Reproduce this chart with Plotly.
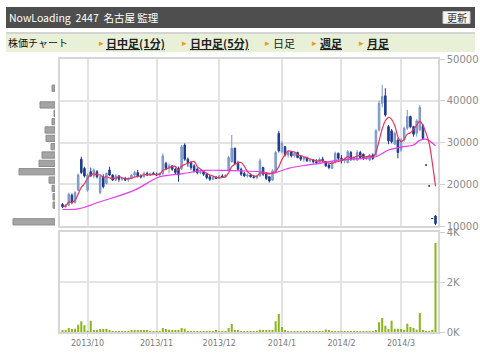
import pandas as pd
import plotly.graph_objects as go

W, H = 480, 362

# ---------------- data (prices in thousand yen) ----------------
day_index = list(range(120))
open_k = [15.2, 14.6, 15.0, 17.4, 15.6, 18.6, 26.0, 23.8, 18.6, 23.0,
          22.0, 23.0, 18.0, 21.8, 20.2, 23.4, 22.2, 21.0, 22.0, 21.2,
          21.4, 21.0, 21.4, 22.2, 22.8, 22.0, 21.8, 22.6, 22.2, 22.6,
          22.4, 22.2, 22.6, 25.0, 23.8, 24.4, 23.6, 23.8, 23.8, 29.4,
          26.0, 25.2, 24.4, 23.6, 22.8, 23.0, 22.4, 21.8, 21.2, 21.6,
          21.4, 22.0, 21.8, 23.4, 25.4, 28.6, 25.0, 23.6, 22.6, 22.0,
          22.2, 21.8, 21.6, 22.0, 24.0, 22.4, 21.8, 21.0, 23.0, 32.2,
          27.8, 29.0, 27.0, 27.8, 26.8, 27.6, 26.6, 26.0, 26.4, 25.6,
          25.8, 25.4, 25.2, 26.0, 25.4, 24.6, 23.8, 25.2, 27.4, 26.2,
          25.6, 25.2, 27.6, 26.0, 25.8, 27.6, 27.2, 26.2, 25.8, 27.0,
          27.0, 33.0, 39.4, 41.2, 33.8, 32.8, 29.6, 30.6, 28.2, 30.6,
          33.4, 36.2, 33.8, 32.2, 33.0, 34.0, 24.6, 19.6, 11.8, 12.4]
high_k = [15.5, 15.3, 18.0, 17.8, 18.4, 22.6, 26.6, 24.2, 22.6, 24.0,
          23.8, 23.4, 22.0, 22.4, 22.8, 24.2, 22.4, 22.4, 22.2, 21.8,
          21.8, 21.6, 22.4, 23.2, 23.4, 22.4, 23.0, 23.0, 22.8, 23.0,
          22.8, 22.8, 27.4, 25.4, 25.0, 24.6, 24.0, 24.2, 29.4, 29.8,
          26.4, 25.6, 24.8, 24.0, 23.4, 23.2, 22.8, 22.2, 21.8, 22.0,
          22.2, 22.4, 22.4, 26.8, 31.8, 28.8, 25.6, 24.0, 23.0, 22.6,
          22.6, 22.2, 22.2, 26.2, 24.2, 22.8, 22.0, 23.6, 28.0, 32.8,
          30.4, 29.2, 28.0, 28.0, 27.8, 27.8, 27.0, 26.8, 26.6, 26.2,
          26.0, 26.0, 26.4, 26.6, 25.6, 25.0, 25.6, 27.8, 27.6, 27.0,
          26.4, 28.2, 28.0, 26.8, 28.2, 28.0, 27.4, 26.8, 27.2, 27.4,
          33.2, 40.0, 43.8, 43.0, 34.2, 33.2, 32.6, 31.0, 31.0, 33.8,
          37.8, 36.4, 34.0, 35.6, 39.0, 34.4, 24.6, 19.6, 11.8, 12.6]
low_k = [14.3, 14.4, 14.8, 15.2, 15.4, 18.4, 22.4, 21.6, 18.2, 21.8,
         21.4, 21.4, 17.6, 19.0, 20.0, 22.0, 20.8, 20.8, 20.6, 20.8,
         20.8, 20.6, 21.2, 21.8, 21.6, 21.4, 21.6, 22.0, 22.0, 22.2,
         22.0, 21.8, 22.2, 23.4, 22.6, 23.2, 22.2, 20.6, 23.4, 25.6,
         24.2, 23.4, 22.8, 22.4, 22.4, 22.0, 21.2, 20.8, 21.0, 21.2,
         21.2, 21.6, 21.6, 23.2, 25.2, 24.6, 23.2, 22.0, 21.8, 21.6,
         21.6, 21.4, 21.2, 21.8, 22.0, 21.0, 20.4, 20.8, 22.8, 27.6,
         27.4, 26.6, 26.4, 26.4, 26.4, 26.2, 25.6, 25.4, 25.4, 25.2,
         25.0, 24.8, 25.0, 25.2, 24.2, 23.6, 23.6, 25.0, 25.8, 25.0,
         25.0, 25.0, 25.6, 25.6, 25.6, 26.0, 25.8, 25.8, 25.6, 25.8,
         26.8, 32.6, 38.4, 36.2, 29.6, 29.8, 29.4, 26.2, 27.8, 30.2,
         33.0, 33.4, 31.4, 31.4, 32.8, 30.6, 24.6, 19.6, 11.8, 10.2]
close_k = [14.6, 15.0, 17.6, 15.6, 18.0, 22.2, 22.8, 22.0, 22.2, 22.0,
           23.4, 21.8, 21.8, 19.4, 22.6, 22.2, 21.0, 22.0, 21.2, 21.4,
           21.0, 21.4, 22.2, 22.8, 22.0, 21.8, 22.6, 22.2, 22.6, 22.4,
           22.2, 22.6, 26.8, 23.8, 24.4, 23.6, 22.8, 22.2, 29.0, 26.0,
           25.2, 24.0, 23.2, 22.8, 23.0, 22.4, 21.6, 21.2, 21.6, 21.4,
           22.0, 21.8, 22.2, 26.4, 28.6, 25.0, 23.6, 22.4, 22.0, 22.2,
           21.8, 21.6, 22.0, 25.6, 22.4, 21.4, 20.8, 23.2, 27.6, 28.0,
           29.8, 27.0, 27.6, 26.8, 27.4, 26.4, 26.0, 26.4, 25.6, 25.8,
           25.4, 25.2, 26.0, 25.6, 24.4, 24.0, 25.2, 27.4, 26.2, 25.6,
           26.0, 27.8, 26.0, 26.4, 27.6, 26.4, 26.2, 26.4, 27.0, 26.2,
           32.8, 39.4, 41.0, 36.6, 30.4, 30.2, 32.2, 27.6, 30.6, 33.4,
           36.2, 33.8, 32.0, 35.2, 38.4, 31.0, 24.6, 19.6, 11.8, 10.6]

# 25-day average (index, thousand yen)
ma25_index = [0, 5, 12, 23, 31, 38, 45, 52, 57, 63, 67, 72, 78, 82, 88,
              96, 100, 104, 108, 112, 114, 116, 119]
ma25_k = [14.0, 14.1, 15.8, 18.6, 21.8, 22.5, 23.3, 23.3, 23.2, 23.0, 22.6,
          23.8, 24.6, 25.0, 25.8, 26.2, 26.6, 28.2, 28.9, 29.4, 30.5, 30.8, 29.2]

# daily volume (shares)
volume = [50, 50, 160, 120, 130, 290, 430, 270, 30, 450,
          80, 50, 120, 120, 130, 50, 40, 40, 30, 30,
          30, 30, 60, 50, 50, 50, 50, 50, 40, 30,
          30, 40, 160, 120, 90, 80, 80, 80, 160, 130,
          40, 40, 40, 30, 30, 30, 30, 30, 30, 50,
          30, 30, 40, 160, 320, 70, 60, 30, 30, 30,
          30, 30, 30, 90, 50, 50, 50, 50, 430, 720,
          200, 50, 25, 25, 25, 25, 25, 25, 30, 25,
          25, 25, 25, 25, 100, 50, 25, 25, 25, 30,
          25, 25, 25, 25, 25, 25, 25, 25, 25, 25,
          80, 390, 560, 250, 120, 450, 130, 130, 120, 50,
          330, 200, 160, 90, 760, 50, 40, 40, 90, 3560]

# volume-by-price histogram (price band centre in yen, relative volume)
band_price = [11000, 15000, 17000, 19000, 21000, 23000, 25000, 27000,
              29000, 31000, 33000, 35000, 37000, 39000, 43000]
band_volume = [42, 2, 2, 3, 6, 36, 16, 13, 4, 9, 10, 3, 1, 15, 3]

month_tick_index = [8, 30, 50, 70, 89, 108]
month_tick_text = ["2013/10", "2013/11", "2013/12", "2014/1", "2014/2", "2014/3"]
price_ticks = [10000, 20000, 30000, 40000, 50000]
volume_ticks = [0, 2000, 4000]
volume_tick_text = ["0K", "2K", "4K"]

# ---------------- derived ----------------
opens = [v * 1000 for v in open_k]
highs = [v * 1000 for v in high_k]
lows = [v * 1000 for v in low_k]
closes = [v * 1000 for v in close_k]
ma5 = pd.Series(closes).rolling(5, min_periods=1).mean().tolist()
ma25 = [v * 1000 for v in ma25_k]


def px(x):
    return x / W


def py(y):
    return 1 - y / H


GRID = "#e3e3e3"
FRAME = "#d6d6d6"
TICKFONT = dict(family="DejaVu Sans", size=10, color="#8a8a8a")

fig = go.Figure()

fig.add_trace(go.Candlestick(
    x=day_index, open=opens, high=highs, low=lows, close=closes,
    increasing=dict(fillcolor="#8fa8d3", line=dict(color="#7a95c6", width=1)),
    decreasing=dict(fillcolor="#1e3b8f", line=dict(color="#1e3b8f", width=1)),
    whiskerwidth=0, xaxis="x", yaxis="y", hoverinfo="skip"))

fig.add_trace(go.Scatter(x=ma25_index, y=ma25, mode="lines",
                         line=dict(color="#e23cf0", width=1.2, shape="spline"),
                         xaxis="x", yaxis="y", hoverinfo="skip"))
fig.add_trace(go.Scatter(x=day_index, y=ma5, mode="lines",
                         line=dict(color="#e8335c", width=1.2, shape="spline"),
                         xaxis="x", yaxis="y", hoverinfo="skip"))

fig.add_trace(go.Bar(x=day_index, y=volume, marker=dict(color="#8bb51f", line=dict(width=0)),
                     xaxis="x2", yaxis="y2", hoverinfo="skip"))

fig.add_trace(go.Bar(y=band_price, x=band_volume, orientation="h", width=1500,
                     marker=dict(color="#a4a4a4", line=dict(color="#8c8c8c", width=1)),
                     xaxis="x3", yaxis="y3", hoverinfo="skip"))

x_dom = [px(60), px(438)]
xrange = [-0.8, 119.8]

fig.update_layout(
    width=W, height=H, margin=dict(l=0, r=0, t=0, b=0, pad=0, autoexpand=False),
    paper_bgcolor="white", plot_bgcolor="white", showlegend=False,
    bargap=0.35,
    xaxis=dict(domain=x_dom, range=xrange, anchor="y", automargin=False,
               tickvals=month_tick_index, showticklabels=False, ticks="",
               showgrid=True, gridcolor=GRID, gridwidth=2,
               showline=True, mirror=True, linecolor=FRAME, linewidth=1.5,
               zeroline=False, rangeslider=dict(visible=False), fixedrange=True),
    yaxis=dict(domain=[py(226), py(59)], range=[10000, 50000], anchor="x", side="right",
               automargin=False,
               tickvals=price_ticks, ticktext=[str(v) for v in price_ticks],
               ticks="outside", ticklen=5, tickcolor="#cfcfcf",
               tickfont=TICKFONT, showgrid=True, gridcolor=GRID, gridwidth=2,
               showline=True, mirror=True, linecolor=FRAME, linewidth=1.5, zeroline=False),
    xaxis2=dict(domain=x_dom, range=xrange, anchor="y2", automargin=False,
                tickvals=month_tick_index, ticktext=month_tick_text,
                ticks="outside", ticklen=3, tickcolor="#dddddd",
                tickfont=dict(family="DejaVu Sans", size=8, color="#7a7a7a"),
                showgrid=True, gridcolor=GRID, gridwidth=2,
                showline=True, mirror=True, linecolor=FRAME, linewidth=1.5, zeroline=False),
    yaxis2=dict(domain=[py(332), py(232)], range=[0, 4000], anchor="x2", side="right",
                automargin=False,
                tickvals=volume_ticks, ticktext=volume_tick_text,
                ticks="outside", ticklen=5, tickcolor="#cfcfcf",
                tickfont=TICKFONT, showgrid=True, gridcolor=GRID, gridwidth=2,
                showline=True, mirror=True, linecolor=FRAME, linewidth=1.5, zeroline=False),
    xaxis3=dict(domain=[0, px(55)], range=[55, 0], anchor="y3", visible=False, automargin=False),
    yaxis3=dict(domain=[py(226), py(59)], range=[10000, 50000], anchor="x3", visible=False,
                automargin=False),
)

shapes = [
    dict(type="rect", xref="paper", yref="paper", x0=px(6), x1=px(475), y0=py(28), y1=py(7),
         fillcolor="#4e4e4e", line=dict(width=0), layer="below"),
    dict(type="rect", xref="paper", yref="paper", x0=px(443), x1=px(470), y0=py(23.5), y1=py(11.5),
         fillcolor="#f5f5f5", line=dict(color="#c8c8c8", width=1), layer="above"),
    dict(type="rect", xref="paper", yref="paper", x0=px(6), x1=px(475), y0=py(52), y1=py(33),
         fillcolor="#e8f1d7", line=dict(width=0), layer="below"),
    dict(type="line", xref="paper", yref="paper", x0=px(6), x1=px(475), y0=py(33), y1=py(33),
         line=dict(color="#d4d4d4", width=2), layer="below"),
]
fig.update_layout(shapes=shapes)

NB = "\u00a0"
ann = []


def text(x, y, s, size=11, color="#111", family="Noto Sans CJK JP", anchor="left"):
    ann.append(dict(x=px(x), y=py(y), xref="paper", yref="paper", text=s, showarrow=False,
                    xanchor=anchor, yanchor="middle", borderpad=0,
                    font=dict(size=size, color=color, family=family)))


text(8, 17.5, "NowLoading" + NB * 2 + "2447" + NB * 2 + "名古屋" + NB + "監理", size=10.5, color="#ffffff")
text(456.5, 17.5, "更新", size=10, color="#333333", anchor="center")
text(7, 43, "株価チャート", size=10, color="#111111")
for tx in [98, 181, 264, 311, 358]:
    text(tx, 43, "▸", size=9, color="#f09a1c", family="DejaVu Sans")
text(105, 43, "<b><u>日中足(1分)</u></b>", size=11, color="#222222")
text(189, 43, "<b><u>日中足(5分)</u></b>", size=11, color="#222222")
text(272, 43, "日足", size=11, color="#222222")
text(319, 43, "<b><u>週足</u></b>", size=11, color="#222222")
text(366, 43, "<b><u>月足</u></b>", size=11, color="#222222")
fig.update_layout(annotations=ann)

fig.write_html("out.html")
